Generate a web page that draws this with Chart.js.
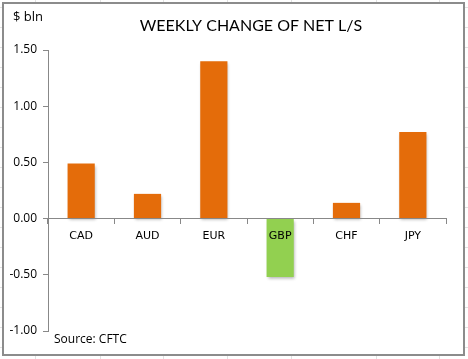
<!DOCTYPE html>
<html>
<head>
<meta charset="utf-8">
<script src="https://cdn.jsdelivr.net/npm/chart.js@4"></script>
<style>
  body { margin: 0; background: #fff; }
  #wrap { position: relative; width: 468px; height: 359px; }
</style>
</head>
<body>
<div id="wrap"><canvas id="myChart" width="468" height="359"></canvas></div>
<script>
// dati
const categories = ["CAD", "AUD", "EUR", "GBP", "CHF", "JPY"]
const values = [0.49, 0.22, 1.40, -0.52, 0.14, 0.77]
const yTicks = [-1.00, -0.50, 0.00, 0.50, 1.00, 1.50]

const titleText = "WEEKLY CHANGE OF NET L/S"
const unitText = "$ bln"
const sourceText = "Source: CFTC"

// sfondo tipo foglio excel + cornice del grafico
const frame = {
  id: 'frame',
  beforeDraw(chart) {
    const c = chart.ctx
    c.save()
    c.fillStyle = '#fff'
    c.fillRect(0, 0, chart.width, chart.height)
    c.strokeStyle = '#e2e2e2'
    c.lineWidth = 1
    const cols = [35, 100, 163, 227, 291, 376, 439]
    cols.forEach(x => {
      c.beginPath(); c.moveTo(x + 0.5, 0); c.lineTo(x + 0.5, chart.height); c.stroke()
    })
    for (let y = 7; y < chart.height; y += 20) {
      c.beginPath(); c.moveTo(0, y + 0.5); c.lineTo(chart.width, y + 0.5); c.stroke()
    }
    c.fillStyle = '#fff'
    c.fillRect(3, 3, 461, 352)
    c.strokeStyle = '#8c8c8c'
    c.lineWidth = 2
    c.strokeRect(3, 3, 461, 352)
    c.restore()
  },
  afterDraw(chart) {
    const c = chart.ctx
    c.save()
    c.fillStyle = '#000'
    c.textBaseline = 'middle'
    c.textAlign = 'center'
    c.font = '16px Lato'
    c.fillText(titleText, 251, 26)
    c.textAlign = 'left'
    c.font = '13px "Open Sans"'
    c.fillText(unitText, 13, 17)
    c.font = '12px "Open Sans"'
    c.fillText(sourceText, 54, 340)
    c.restore()
  }
}

// ombra leggera sotto le barre
const shadow = {
  id: 'shadow',
  beforeDatasetDraw(chart) {
    const c = chart.ctx
    c.save()
    c.shadowColor = 'rgba(0,0,0,0.3)'
    c.shadowBlur = 3
    c.shadowOffsetX = 1
    c.shadowOffsetY = 2
  },
  afterDatasetDraw(chart) {
    chart.ctx.restore()
  }
}

const ctx = document.getElementById('myChart').getContext('2d')
const myChart = new Chart(ctx, {
  type: 'bar',
  data: {
    labels: categories,
    datasets: [{
      data: values,
      backgroundColor: (c) => values[c.dataIndex] < 0 ? '#92D050' : '#E46C0A',
      barPercentage: 0.41,
      categoryPercentage: 1
    }]
  },
  options: {
    responsive: false,
    animation: false,
    layout: { padding: { left: 0, top: 50, right: 22, bottom: 28 } },
    plugins: {
      legend: { display: false },
      tooltip: { enabled: false }
    },
    scales: {
      x: {
        position: { y: 0 },
        grid: { drawOnChartArea: false, tickLength: 5, color: '#888', offset: true },
        border: { color: '#888', width: 1, z: 1 },
        ticks: { z: 1, color: '#000', autoSkip: false, maxRotation: 0, font: { family: 'DejaVu Sans', size: 11 }, padding: 6 }
      },
      y: {
        min: -1, max: 1.5,
        afterBuildTicks: (s) => { s.ticks = yTicks.map(v => ({ value: v })) },
        afterFit: (s) => { s.width = 48 },
        grid: { drawOnChartArea: false, tickLength: 5, color: '#888' },
        border: { color: '#888', width: 1 },
        ticks: {
          color: '#000',
          font: { family: 'Open Sans', size: 12 },
          padding: 6,
          callback: (v) => Number(v).toFixed(2)
        }
      }
    }
  },
  plugins: [frame, shadow]
})
</script>
</body>
</html>
